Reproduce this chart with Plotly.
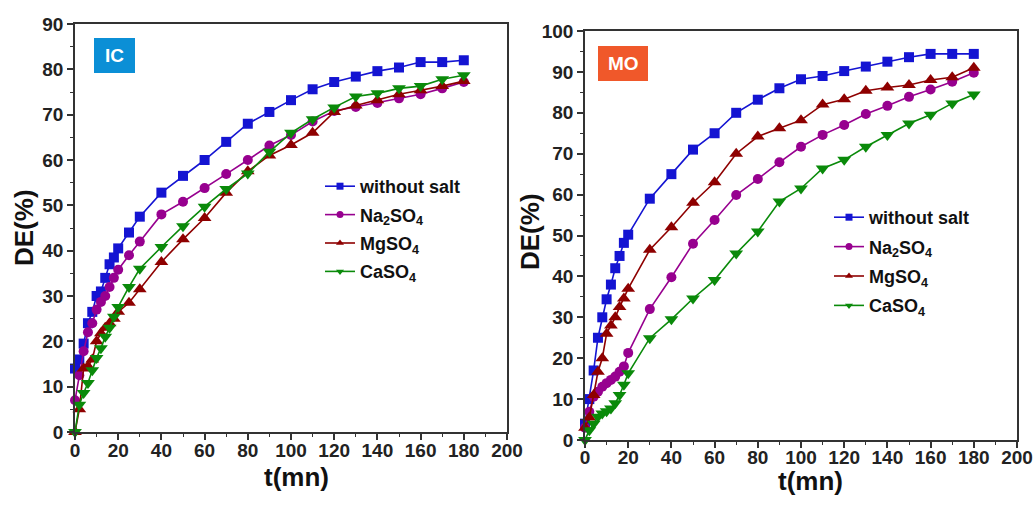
import plotly.graph_objects as go

# ---------------- data ----------------
# IC panel
t_ic = [0, 2, 4, 6, 8, 10, 12, 14, 16, 18, 20, 25, 30, 40, 50, 60, 70, 80, 90,
        100, 110, 120, 130, 140, 150, 160, 170, 180]
ic_without = [14, 16, 19.5, 24, 26.5, 30, 31, 34, 37, 38.5, 40.5, 44, 47.5, 52.8, 56.5,
              60, 64, 68, 70.6, 73.2, 75.6, 77.2, 78.4, 79.6, 80.4, 81.6, 81.6, 82]
ic_na2so4 = [7, 12.5, 17.8, 22, 24, 27, 28.7, 30, 32, 34, 35.8, 39, 42, 48, 50.8,
             53.8, 56.9, 60, 63.2, 65.5, 68.5, 70.8, 71.7, 72.6, 73.6, 74.5, 75.8, 77.2]
ic_mgso4 = [0, 5, 14, 14.5, 16, 20, 21.8, 23, 24, 25, 26.5, 28.5, 31.5, 37.5, 42.5,
            47.2, 52.8, 57.5, 61, 63.3, 66, 70.6, 72, 73.2, 74.5, 75.4, 76.3, 77.4]
ic_caso4 = [0, 6, 8.6, 10.8, 13.6, 16.3, 18.5, 21, 23, 25.4, 27.6, 32, 36, 40.8, 45.4,
            49.7, 53.6, 57, 61.8, 66, 69, 71.6, 74, 74.7, 75.8, 76.3, 77.8, 78.7]

# MO panel
t_mo = [0, 2, 4, 6, 8, 10, 12, 14, 16, 18, 20, 30, 40, 50, 60, 70, 80, 90,
        100, 110, 120, 130, 140, 150, 160, 170, 180]
mo_without = [4, 10, 17, 25, 30, 34.4, 38, 42, 45, 48.2, 50.2, 59, 65, 71, 75, 80,
              83.2, 86, 88.2, 89, 90.2, 91.3, 92.5, 93.6, 94.4, 94.4, 94.4]
mo_na2so4 = [3, 6.9, 10.6, 11.8, 13, 13.9, 14.7, 15.5, 16.7, 18, 21.3, 32, 39.8, 48,
             53.8, 59.9, 63.8, 67.9, 71.7, 74.6, 77, 79.7, 81.7, 83.9, 85.7, 87.6, 89.8]
mo_mgso4 = [3, 5.5, 11, 16.7, 20, 26, 28, 30, 32.5, 34.6, 37, 46.5, 52, 58, 63, 70,
            74.2, 76.2, 78.2, 82, 83.3, 85.4, 86.2, 86.8, 88, 88.7, 91]
mo_caso4 = [0, 2.4, 4, 5.7, 6.5, 7, 7.7, 9, 11, 13.5, 16.3, 24.9, 29.5, 34.6, 39.1,
            45.6, 51, 58.3, 61.5, 66.4, 68.5, 71.7, 74.6, 77.4, 79.5, 82.3, 84.5]

series_names = ["without salt", "Na<sub>2</sub>SO<sub>4</sub>",
                "MgSO<sub>4</sub>", "CaSO<sub>4</sub>"]
colors = ["#1414d2", "#97008f", "#8e0000", "#0a8a0a"]
symbols = ["square", "circle", "triangle-up", "triangle-down"]
sizes = [10, 10, 12, 12]

x_ticks = list(range(0, 201, 20))
ic_y_ticks = list(range(0, 91, 10))
mo_y_ticks = list(range(0, 101, 10))

W, H = 1033, 505

def px_x(p):
    return p / W

def px_y(p):
    return 1 - p / H

fig = go.Figure()

panels = [
    (t_ic, [ic_without, ic_na2so4, ic_mgso4, ic_caso4], "x", "y", "legend"),
    (t_mo, [mo_without, mo_na2so4, mo_mgso4, mo_caso4], "x2", "y2", "legend2"),
]

for t, ys, xa, ya, leg in panels:
    for i, vals in enumerate(ys):
        fig.add_trace(go.Scatter(
            x=t, y=vals, mode="lines+markers", xaxis=xa, yaxis=ya,
            line=dict(color=colors[i], width=1.6),
            marker=dict(symbol=symbols[i], size=sizes[i], color=colors[i]),
            cliponaxis=False, showlegend=False, hoverinfo="skip",
        ))
        # legend entry with a small marker
        fig.add_trace(go.Scatter(
            x=[None], y=[None], mode="lines+markers", xaxis=xa, yaxis=ya,
            name=series_names[i], legend=leg, legendgroup=f"{leg}{i}",
            line=dict(color=colors[i], width=1.6),
            marker=dict(symbol=symbols[i], size=7, color=colors[i]),
        ))

tick_font = dict(family="Liberation Sans, Arial", size=19, color="#222222", weight="bold")
axis_common = dict(
    showline=True, linecolor="#333333", linewidth=1.5, mirror=True,
    ticks="outside", ticklen=6, tickwidth=1.5, tickcolor="#333333",
    showgrid=False, zeroline=False, tickfont=tick_font, automargin=False,
    ticklabeloverflow="allow",
    minor=dict(ticks="outside", ticklen=3, tickwidth=1.2, tickcolor="#333333",
               showgrid=False),
)

legend_font = dict(family="Liberation Sans, Arial", size=18, color="#111111", weight="bold")

fig.update_layout(
    width=W, height=H,
    margin=dict(l=0, r=0, t=0, b=0),
    paper_bgcolor="white", plot_bgcolor="white",
    xaxis=dict(domain=[px_x(75), px_x(507)], range=[0, 200], anchor="y",
               tickvals=x_ticks, minor_dtick=10, ticklabelstandoff=-6, **axis_common),
    yaxis=dict(domain=[px_y(432), px_y(24)], range=[0, 90], anchor="x",
               tickvals=ic_y_ticks, minor_dtick=5, **axis_common),
    xaxis2=dict(domain=[px_x(585), px_x(1017)], range=[0, 200], anchor="y2",
                tickvals=x_ticks, minor_dtick=10, ticklabelstandoff=-7, **axis_common),
    yaxis2=dict(domain=[px_y(440), px_y(31)], range=[0, 100], anchor="x2",
                tickvals=mo_y_ticks, minor_dtick=5, **axis_common),
    legend=dict(x=px_x(320), y=px_y(168), xanchor="left", yanchor="top",
                bgcolor="rgba(0,0,0,0)", tracegroupgap=2, font=legend_font),
    legend2=dict(x=px_x(829), y=px_y(199), xanchor="left", yanchor="top",
                 bgcolor="rgba(0,0,0,0)", tracegroupgap=3, font=legend_font),
)

title_font = dict(family="Liberation Sans, Arial", size=26, color="#111111", weight="bold")
annotations = [
    dict(text="DE(%)", x=px_x(24), y=px_y(228), textangle=-90, font=title_font),
    dict(text="t(mn)", x=px_x(296), y=px_y(477), font=title_font),
    dict(text="DE(%)", x=px_x(530), y=px_y(232), textangle=-90, font=title_font),
    dict(text="t(mn)", x=px_x(810), y=px_y(481), font=title_font),
]
for a in annotations:
    fig.add_annotation(xref="paper", yref="paper", showarrow=False,
                       xanchor="center", yanchor="middle", **a)

# panel tags
tags = [("IC", 94, 38, 135, 73, "#0b8fd6"), ("MO", 598, 46, 648, 81, "#f0582a")]
for label, x0, y0, x1, y1, col in tags:
    fig.add_shape(type="rect", xref="paper", yref="paper",
                  x0=px_x(x0), x1=px_x(x1), y0=px_y(y1), y1=px_y(y0),
                  fillcolor=col, line=dict(width=0))
    fig.add_annotation(xref="paper", yref="paper", showarrow=False,
                       x=px_x((x0 + x1) / 2), y=px_y((y0 + y1) / 2),
                       text=label, xanchor="center", yanchor="middle",
                       font=dict(family="Liberation Sans, Arial", size=19,
                                 color="white", weight="bold"))

fig.write_html("out.html")
